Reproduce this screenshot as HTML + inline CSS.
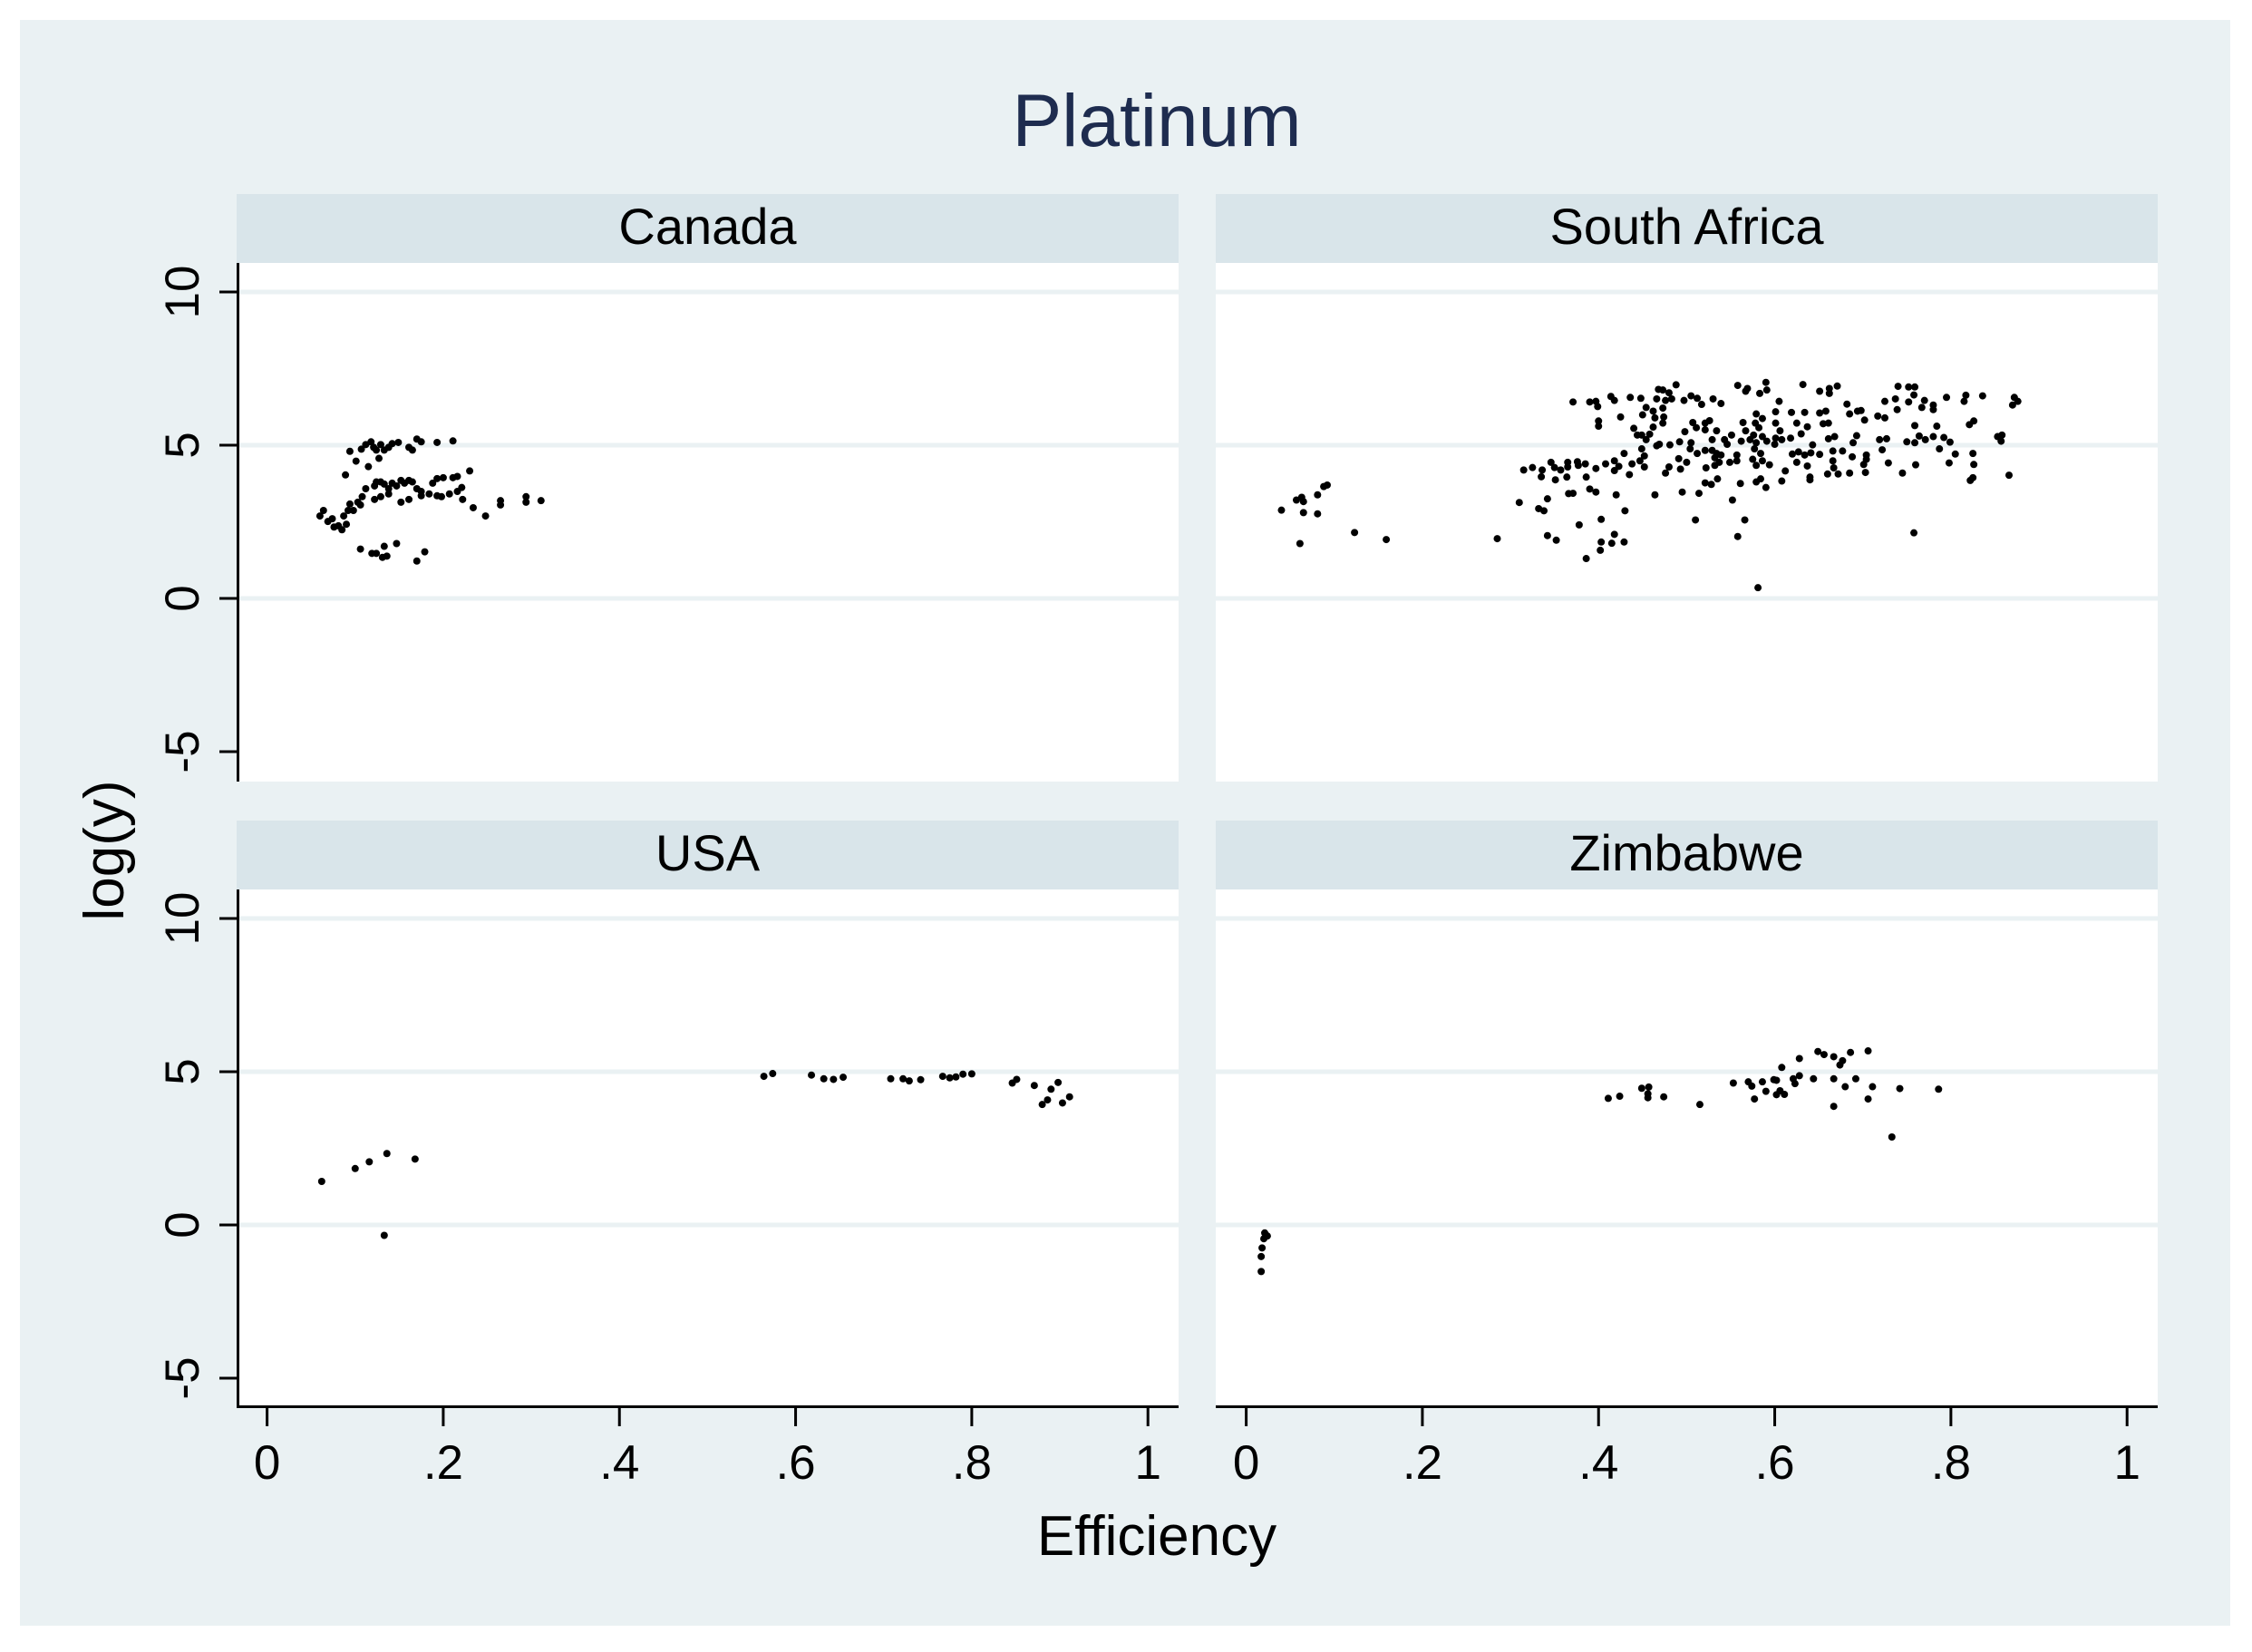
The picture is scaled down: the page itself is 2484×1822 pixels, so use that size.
<!DOCTYPE html>
<html><head><meta charset="utf-8"><style>
html,body{margin:0;padding:0;background:#fff;}
svg{display:block;}
text{font-family:"Liberation Sans",Arial,sans-serif;}
</style></head><body>
<svg id="chart" width="2484" height="1822" viewBox="0 0 2484 1822" xmlns="http://www.w3.org/2000/svg">
<rect x="0" y="0" width="2484" height="1822" fill="#ffffff"/>
<rect x="22" y="22" width="2438" height="1771" fill="#eaf1f3"/>
<text x="1276" y="161" font-size="82" fill="#1e2c4f" text-anchor="middle">Platinum</text>
<g id="panels"></g>
<text x="1276" y="1715" font-size="62" fill="#000" text-anchor="middle">Efficiency</text>
<text transform="translate(136,938) rotate(-90)" font-size="62" fill="#000" text-anchor="middle">log(y)</text>
</svg>
<script>
const xTicks=[0,0.2,0.4,0.6,0.8,1];
const xTickLabels=["0",".2",".4",".6",".8","1"];
const yTicks=[10,5,0,-5];
const yTickLabels=["10","5","0","-5"];
const panelNames=["Canada","South Africa","USA","Zimbabwe"];

const canadaX=[.060,.064,.069,.074,.076,.081,.085,.087,.090,.092,.094,.098,.103,.106,.108,.112,.089,.094,.101,.107,.112,.115,.118,.121,.124,.127,.129,.133,.138,.142,.149,.161,.165,.170,.175,.193,.211,.122,.124,.129,.133,.138,.142,.147,.152,.156,.161,.165,.170,.175,.188,.193,.200,.211,.216,.230,.122,.129,.138,.152,.161,.175,.184,.193,.198,.207,.216,.221,.222,.234,.248,.265,.265,.294,.294,.311,.106,.119,.124,.131,.136,.147,.133,.170,.179];
const canadaY=[2.69,2.87,2.51,2.60,2.33,2.37,2.24,2.69,2.42,2.87,3.08,2.87,3.14,3.05,3.32,3.58,4.03,4.80,4.48,4.87,5.02,4.30,5.11,4.93,4.84,4.57,5.02,4.84,4.93,5.05,5.09,4.93,4.84,5.20,5.11,5.09,5.14,3.67,3.80,3.80,3.73,3.58,3.76,3.67,3.85,3.76,3.85,3.80,3.58,3.49,3.76,3.91,3.94,3.94,3.98,4.16,3.23,3.32,3.41,3.14,3.23,3.35,3.41,3.35,3.32,3.41,3.49,3.62,3.23,2.96,2.69,3.19,3.05,3.32,3.14,3.19,1.61,1.47,1.47,1.34,1.38,1.79,1.70,1.22,1.52];

const safX=[.040,.057,.063,.065,.065,.081,.081,.088,.092,.061,.123,.159,.285,.310,.315,.325,.336,.335,.346,.350,.357,.365,.365,.364,.351,.342,.332,.338,.342,.352,.376,.377,.385,.386,.397,.366,.371,.390,.397,.378,.403,.403,.415,.418,.429,.402,.386,.420,.430,.408,.418,.418,.423,.429,.435,.438,.447,.452,.452,.449,.464,.466,.371,.390,.397,.399,.400,.400,.414,.418,.425,.436,.448,.440,.444,.449,.454,.458,.454,.450,.462,.464,.462,.468,.466,
.473,.480,.488,.476,.483,.497,.505,.512,.517,.530,.539,.558,.567,.569,.590,.583,.591,.605,.632,.651,.662,.662,.671,.682,.725,.740,.737,.752,.759,.758,.752,.770,.767,.780,.780,.795,.817,.815,.836,.872,.876,.870,.473,.474,.473,.469,.481,.492,.498,.507,.511,.521,.526,.521,.534,.529,.543,.551,.546,.505,.504,.512,.521,.529,.534,.539,.532,.537,.532,.491,.500,.480,.476,.493,.522,.549,.557,.557,.564,.567,.579,.586,.578,.582,.576,.562,.572,.579,.586,.591,.577,.584,.575,.579,.586,.594,.601,.601,.606,.601,.600,.608,.618,.619,.634,.625,.630,.637,.643,.651,.658,.655,.661,.661,.668,.620,.627,.625,.634,.637,.641,.651,.612,.608,.640,.640,.666,.666,.667,.660,.672,.677,.685,.685,.694,.698,.702,.693,.689,.688,.704,.704,.701,.703,.717,.725,.719,.727,.722,.729,.739,.745,.750,.759,.759,.764,.771,.780,.784,.792,.799,.787,.805,.798,.760,.826,.821,.825,.826,.825,.822,.853,.858,.857,.866,.495,.514,.521,.528,.535,.561,.579,.584,.590,.552,.510,.566,.558,.758,.581];
const safY=[2.88,3.21,3.30,3.16,2.80,3.38,2.76,3.65,3.70,1.79,2.15,1.92,1.95,3.13,4.19,4.27,4.19,3.97,4.44,4.27,4.19,4.44,4.29,3.96,3.87,3.25,2.93,2.86,2.05,1.90,4.46,4.34,4.39,3.96,4.24,3.42,3.43,3.57,3.47,2.40,2.58,1.84,1.80,2.09,1.84,1.57,1.30,3.38,2.86,4.39,4.49,4.17,4.31,4.73,4.04,4.39,4.49,4.29,4.65,4.88,3.38,4.98,6.41,6.41,6.43,6.26,5.79,5.62,6.59,6.46,5.92,6.56,6.53,5.55,5.33,5.33,5.18,5.36,6.23,5.99,6.11,5.89,5.59,6.82,6.51,
6.80,6.71,6.97,6.46,6.51,6.46,6.61,6.53,6.33,6.51,6.36,6.95,6.76,6.85,7.05,6.69,6.80,6.43,6.98,6.76,6.85,6.69,6.93,6.34,6.43,6.92,6.51,6.90,6.90,6.64,6.41,6.46,6.23,6.31,6.16,6.56,6.63,6.43,6.61,6.56,6.43,6.31,6.21,5.92,5.72,5.03,5.01,5.11,5.44,5.74,5.57,5.72,5.80,5.50,5.47,5.18,5.18,5.33,5.03,5.08,4.88,4.73,4.83,4.83,4.73,4.68,4.59,4.44,4.34,4.56,4.44,4.29,4.09,4.22,4.26,4.44,4.68,4.49,5.74,5.47,6.02,5.87,5.72,5.57,5.33,5.13,5.18,5.08,5.28,5.13,4.88,4.73,4.54,4.34,4.49,4.36,6.09,5.72,5.47,5.23,5.03,5.18,5.23,6.07,6.07,5.72,5.37,5.60,5.01,6.05,6.11,5.70,5.72,5.21,5.28,4.71,4.78,4.44,4.68,4.32,4.75,4.70,4.16,3.83,3.96,3.87,4.81,4.49,4.26,4.06,4.06,4.81,4.09,6.02,6.11,6.13,5.82,5.31,5.08,4.62,4.68,4.54,4.37,4.11,5.95,5.89,5.18,5.21,4.85,4.42,6.16,4.09,5.11,5.64,5.08,5.30,5.18,5.28,5.62,5.25,5.10,4.88,4.71,4.42,4.36,5.79,5.67,4.73,4.37,3.94,3.85,5.28,5.33,5.13,4.02,3.47,3.43,3.77,3.72,3.90,3.75,3.80,3.90,3.62,3.21,2.56,2.56,2.02,2.14,0.35];

const usaX=[.062,.100,.116,.136,.168,.133,.564,.574,.618,.632,.643,.654,.708,.722,.729,.742,.767,.775,.782,.790,.800,.846,.851,.871,.890,.898,.880,.886,.903,.911];
const usaY=[1.42,1.84,2.06,2.33,2.15,-0.34,4.85,4.94,4.89,4.77,4.75,4.82,4.77,4.77,4.70,4.74,4.85,4.80,4.83,4.92,4.93,4.63,4.75,4.55,4.43,4.65,3.93,4.08,3.98,4.18];

const zimX=[.021,.024,.020,.018,.017,.017,.411,.424,.449,.457,.456,.456,.474,.515,.553,.570,.574,.586,.577,.590,.599,.602,.602,.606,.611,.608,.621,.623,.628,.628,.644,.649,.656,.667,.667,.674,.677,.686,.680,.692,.667,.706,.711,.706,.742,.733,.786];
const zimY=[-0.26,-0.36,-0.45,-0.75,-1.03,-1.52,4.13,4.20,4.46,4.50,4.28,4.15,4.18,3.93,4.63,4.67,4.53,4.67,4.11,4.36,4.74,4.72,4.25,4.38,4.26,5.14,4.77,4.61,4.87,5.43,4.77,5.66,5.56,5.49,4.77,5.22,5.36,5.63,4.51,4.77,3.87,5.68,4.51,4.11,4.45,2.87,4.43];

const NS='http://www.w3.org/2000/svg';
const root=document.getElementById('panels');
function mk(tag,attrs,parent){const e=document.createElementNS(NS,tag);for(const k in attrs)e.setAttribute(k,attrs[k]);(parent||root).appendChild(e);return e;}

const panelLeft=[261,1341,261,1341];
const panelTop=[214,214,905,905];
const PW=1039, HEADER_H=76, PLOT_H=572;
const seriesX=[canadaX,safX,usaX,zimX];
const seriesY=[canadaY,safY,usaY,zimY];
const slugs=["canada","south-africa","usa","zimbabwe"];

for(let p=0;p<4;p++){
  const L=panelLeft[p], T=panelTop[p];
  const plotTop=T+HEADER_H, plotBot=plotTop+PLOT_H;
  const xs=v=>L+33.6+v*971.6;
  const ys=v=>plotTop+32+(10-v)*33.8;
  const g=mk('g',{});
  
  
  const hdr=mk('rect',{x:L,y:T,width:PW,height:HEADER_H,fill:'#d9e5ea'},g);
  
  
  const ht=mk('text',{x:L+PW/2,y:T+55,'font-size':56,'text-anchor':'middle',fill:'#000'},g);
  ht.textContent=panelNames[p];
  
  
  const pr=mk('rect',{x:L,y:plotTop,width:PW,height:PLOT_H,fill:'#ffffff'},g);
  
  
  for(let i=0;i<3;i++){
    const gl=mk('line',{x1:L,x2:L+PW,y1:ys(yTicks[i]),y2:ys(yTicks[i]),stroke:'#eaf1f3','stroke-width':5},g);
    
    
  }
  const xv=seriesX[p], yv=seriesY[p];
  for(let i=0;i<xv.length;i++){
    const c=mk('circle',{cx:xs(xv[i]),cy:ys(yv[i]),r:4,fill:'#000'},g);
    
    
  }
  if(p%2===0){
    const ax=mk('line',{x1:L+1.5,x2:L+1.5,y1:plotTop,y2:plotBot,stroke:'#000','stroke-width':3},g);
    
    
    for(let i=0;i<yTicks.length;i++){
      const y=ys(yTicks[i]);
      const tk=mk('line',{x1:L-19,x2:L+1,y1:y,y2:y,stroke:'#000','stroke-width':3},g);
      
      
      const tl=mk('text',{transform:'translate('+(L-42)+','+y+') rotate(-90)','font-size':53,'text-anchor':'middle',fill:'#000'},g);
      tl.textContent=yTickLabels[i];
      
      
    }
  }
  if(p>=2){
    const ax=mk('line',{x1:L,x2:L+PW,y1:plotBot-1.5,y2:plotBot-1.5,stroke:'#000','stroke-width':3},g);
    
    
    for(let i=0;i<xTicks.length;i++){
      const x=xs(xTicks[i]);
      const tk=mk('line',{x1:x,x2:x,y1:plotBot-1,y2:plotBot+20,stroke:'#000','stroke-width':3},g);
      
      
      const tl=mk('text',{x:x,y:plotBot+78,'font-size':53,'text-anchor':'middle',fill:'#000'},g);
      tl.textContent=xTickLabels[i];
      
      
    }
  }
}
</script>
</body></html>
